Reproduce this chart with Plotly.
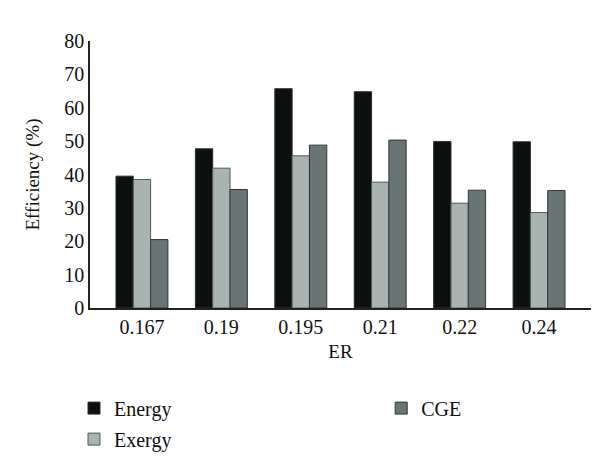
import plotly.graph_objects as go

categories = ["0.167", "0.19", "0.195", "0.21", "0.22", "0.24"]
energy = [39.5, 47.7, 65.7, 64.8, 49.9, 49.8]
exergy = [38.5, 41.9, 45.6, 37.7, 31.4, 28.6]
cge = [20.5, 35.5, 48.8, 50.3, 35.3, 35.2]
y_ticks = [0, 10, 20, 30, 40, 50, 60, 70, 80]

FONT = "Liberation Serif, DejaVu Serif, serif"

fig = go.Figure()
fig.add_bar(x=categories, y=energy, name="Energy",
            marker=dict(color="#0c100f", line=dict(color="#2a2e2e", width=1)),
            legend="legend", legendgroup="a")
fig.add_bar(x=categories, y=exergy, name="Exergy",
            marker=dict(color="#a8b3b2", line=dict(color="#4f5958", width=1)),
            legend="legend", legendgroup="b")
fig.add_bar(x=categories, y=cge, name="CGE",
            marker=dict(color="#687574", line=dict(color="#2f3837", width=1)),
            legend="legend2", legendgroup="c")

fig.update_layout(
    width=600, height=474,
    paper_bgcolor="white", plot_bgcolor="white",
    margin=dict(l=82, r=17, t=33, b=174, autoexpand=False),
    barmode="group", bargap=0.346, bargroupgap=0,
    font=dict(family=FONT, size=20, color="#111"),
    xaxis=dict(type="category", range=[-0.654, 5.654],
               showline=True, linecolor="#222", linewidth=1.5,
               ticks="", showgrid=False, automargin=True, tickangle=0,
               title=dict(text="ER", font=dict(size=19), standoff=8),
               tickfont=dict(size=20)),
    yaxis=dict(range=[0, 80], tickvals=y_ticks, showline=True,
               linecolor="#222", linewidth=1.5, ticks="", showgrid=False,
               zeroline=False, tickfont=dict(size=20)),
    annotations=[dict(text="Efficiency (%)", textangle=-90, xref="paper", yref="paper",
                      x=0, y=0.5, xanchor="center", yanchor="middle", xshift=-58,
                      showarrow=False, font=dict(size=19))],
    legend=dict(xref="container", yref="container", x=0.11, y=0.197,
                xanchor="left", yanchor="top", orientation="v",
                tracegroupgap=2, font=dict(size=20), bgcolor="rgba(0,0,0,0)"),
    legend2=dict(xref="container", yref="container", x=0.622, y=0.197,
                 xanchor="left", yanchor="top", orientation="v",
                 font=dict(size=20), bgcolor="rgba(0,0,0,0)"),
)

fig.write_html("out.html")
